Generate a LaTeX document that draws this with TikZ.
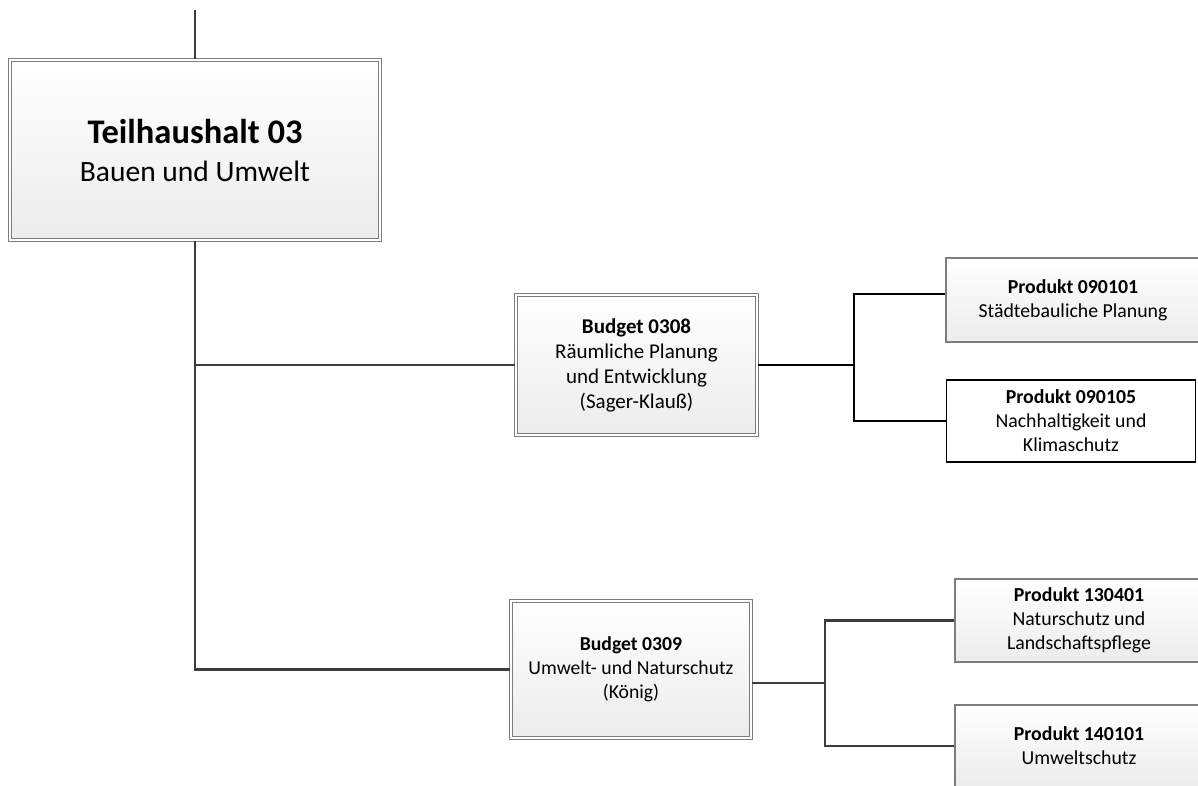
\documentclass[tikz,border=0pt]{standalone}
\usepackage{fontspec}
\setmainfont{Carlito}
\definecolor{linedark}{RGB}{60,60,60}
\definecolor{boxline}{RGB}{125,125,125}
\definecolor{boxbot}{RGB}{236,236,236}
\tikzset{
  dblbox/.style={rectangle, draw=boxline, line width=1.1pt, double=white, double distance=2.2pt,
    top color=white, bottom color=boxbot, align=center, inner sep=0pt},
  prodbox/.style={rectangle, draw=boxline, line width=1.3pt,
    top color=white, bottom color=boxbot, align=center, inner sep=0pt},
  prodwhite/.style={rectangle, draw=black, line width=1.8pt, fill=white, align=center, inner sep=0pt},
  conn/.style={draw=linedark, line width=2.6pt},
  connb/.style={draw=black, line width=1.8pt},
  txtM/.style={font=\fontsize{34.5}{38}\selectfont},
  txtA/.style={font=\fontsize{21}{25}\selectfont},
  txtB/.style={font=\fontsize{19.7}{24}\selectfont},
  txtP/.style={font=\fontsize{19.8}{24}\selectfont},
}
\begin{document}
\begin{tikzpicture}[x=1pt,y=-1pt]
\useasboundingbox (0,0) rectangle (1198,785);
\clip (0,0) rectangle (1198,785);
% nodes
\node[dblbox, txtM, minimum width=370pt, minimum height=180pt] (main) at (195,150)
  {\textbf{Teilhaushalt 03}\\\fontsize{29.5}{38}\selectfont Bauen und Umwelt};
\node[dblbox, txtA, minimum width=241pt, minimum height=140pt] (b1) at (636.5,365)
  {\textbf{Budget 0308}\\Räumliche Planung\\und Entwicklung\\(Sager-Klauß)};
\node[dblbox, txtB, minimum width=240pt, minimum height=137pt] (b2) at (631,669.5)
  {\textbf{Budget 0309}\\Umwelt- und Naturschutz\\(König)};
\node[prodbox, txtP, minimum width=254pt, minimum height=84pt] (p1) at (1073,300)
  {\textbf{Produkt 090101}\\Städtebauliche Planung};
\node[prodwhite, txtP, minimum width=249pt, minimum height=82pt] (p2) at (1071,421)
  {\textbf{Produkt 090105}\\Nachhaltigkeit und\\Klimaschutz};
\node[prodbox, txtP, minimum width=248pt, minimum height=83pt] (p3) at (1079,620.5)
  {\textbf{Produkt 130401}\\Naturschutz und\\Landschaftspflege};
\node[prodbox, txtP, minimum width=248pt, minimum height=82pt] (p4) at (1079,746)
  {\textbf{Produkt 140101}\\Umweltschutz};
% connectors
\coordinate (top) at (195,10);
\coordinate (j1) at (854,365);
\coordinate (j2) at (825,683);
\draw[conn] (top) -- (main.north);
\draw[conn] (main.south) |- (b2.west);
\draw[conn] (main.south |- b1.west) -- (b1.west);
\draw[connb] (b1.east) -- (j1);
\draw[connb] ([yshift=6pt]p1.west) -| (j1) |- (p2.west);
\draw[conn] ([yshift=-13.5pt]b2.east) -- (j2);
\draw[conn] (p3.west) -| (j2) |- (p4.west);
\end{tikzpicture}
\end{document}
